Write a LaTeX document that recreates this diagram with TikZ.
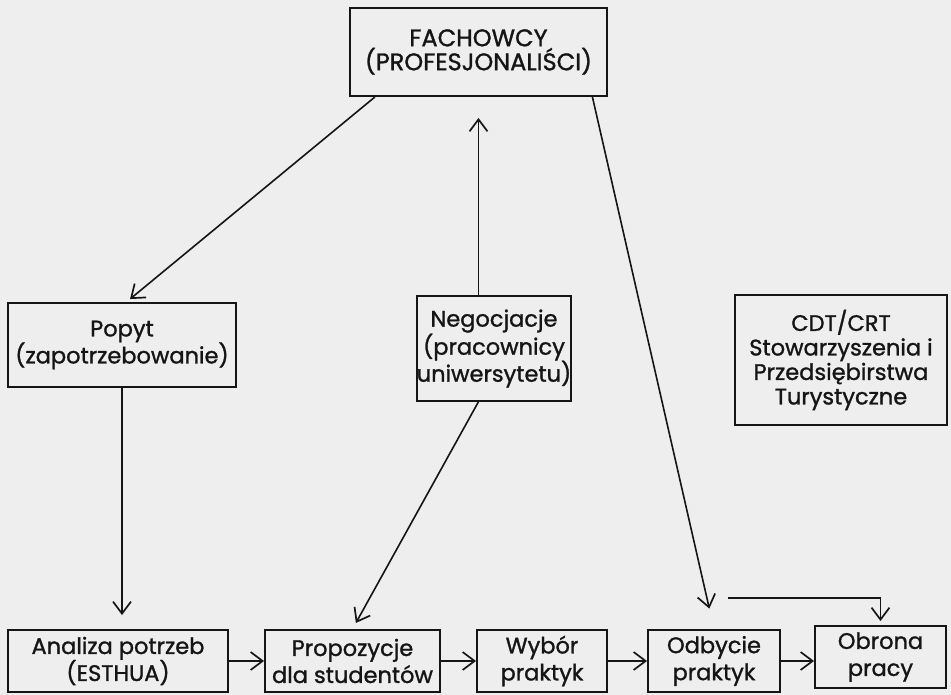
\documentclass[tikz,border=0pt]{standalone}
\usepackage{fontspec}
\setmainfont{Poppins}[FakeBold=1.2]
\usetikzlibrary{arrows.meta,calc}
\definecolor{paper}{HTML}{EEEEEE}
\definecolor{ink}{HTML}{151515}
\begin{document}
\begin{tikzpicture}[x=1pt,y=-1pt,
  box/.style={draw=ink, line width=1.9pt, inner sep=0pt, align=center, text=ink,
              font=\fontsize{22.5}{27}\selectfont\addfontfeature{FakeBold=1.2}},
  arr/.style={draw=ink, line width=1.6pt,
              -{Straight Barb[length=12pt,width=18pt,line width=1.7pt]}},
  ]
\fill[paper] (0,0) rectangle (951,695);
\useasboundingbox (0,0) rectangle (951,695);

\node[box, minimum width=257pt, minimum height=88pt, font=\fontsize{24}{24}\selectfont\addfontfeature{FakeBold=1.2}] (fach) at (478.5,52) {FACHOWCY\\(PROFESJONALIŚCI)};
\node[box, minimum width=228pt, minimum height=84pt] (popyt) at (122,345) {Popyt\\(zapotrzebowanie)};
\node[box, minimum width=146pt, minimum height=105pt] (neg) at (494,348.5) {Negocjacje\\(pracownicy\\uniwersytetu)};
\node[box, minimum width=212pt, minimum height=130pt, font=\fontsize{22.5}{24.5}\selectfont\addfontfeature{FakeBold=1.2}] (cdt) at (841,360) {CDT/CRT\\Stowarzyszenia i\\Przedsiębirstwa\\Turystyczne};

\node[box, minimum width=220pt, minimum height=62pt] (anal) at (118,661) {Analiza potrzeb\\(ESTHUA)};
\node[box, minimum width=175pt, minimum height=62pt] (prop) at (352.5,661) {Propozycje\\dla studentów};
\node[box, minimum width=130pt, minimum height=62pt] (wyb) at (542,661) {Wybór\\praktyk};
\node[box, minimum width=132pt, minimum height=62pt] (odb) at (714,661) {Odbycie\\praktyk};
\node[box, minimum width=131pt, minimum height=62pt] (obr) at (880.5,657) {Obrona\\pracy};

\draw[arr] ($(fach.south west)!0.1!(fach.south east)$) -- ($(popyt.north west)!0.535!(popyt.north east)+(0,-3)$);
\draw[arr, shorten >=21pt] (fach.south |- neg.north) -- (fach.south);
\draw[arr, shorten >=7pt] ($(neg.south west)!0.4!(neg.south east)$) -- (prop.north);
\draw[arr, shorten >=21pt] ($(fach.south west)!0.94!(fach.south east)$) -- (odb.north);
\draw[arr, shorten >=14pt] (popyt.south) -- (popyt.south |- anal.north);

\draw[arr] (anal.east) -- (prop.west);
\draw[arr] (prop.east) -- (wyb.west);
\draw[arr] (wyb.east) -- (odb.west);
\draw[arr] (odb.east) -- (obr.west |- odb.east);

\coordinate (hl) at (728,598);
\draw[arr, shorten >=4pt] (hl) -- (hl -| obr.north) -- (obr.north);
\end{tikzpicture}
\end{document}
